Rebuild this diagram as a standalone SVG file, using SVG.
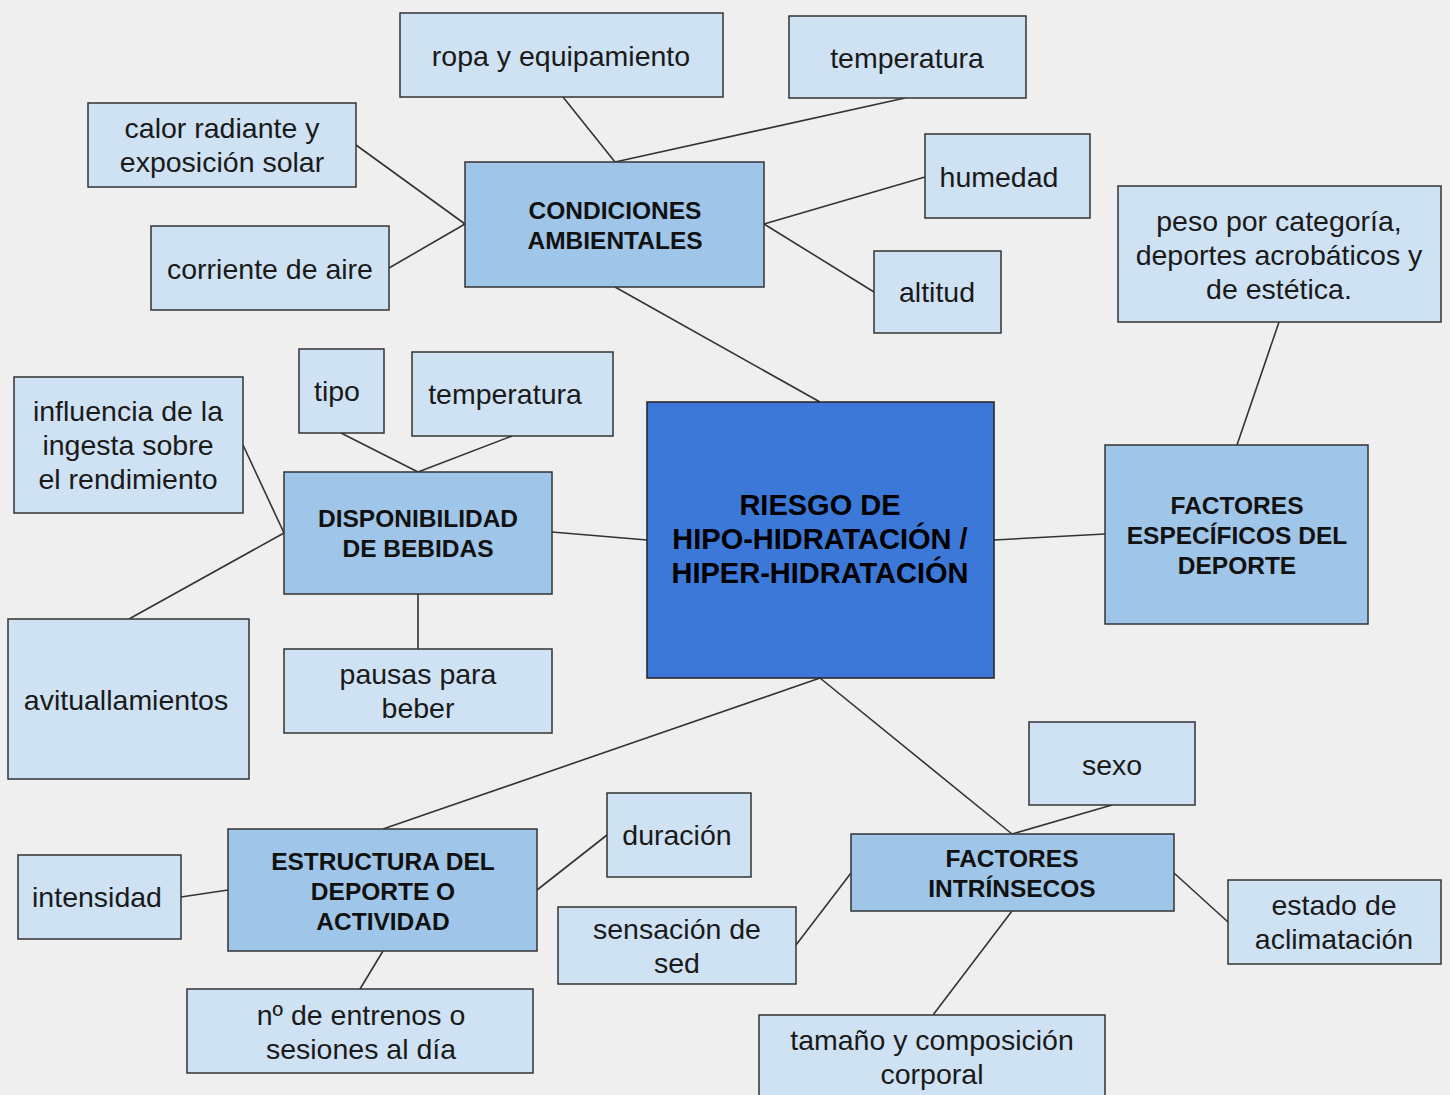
<svg xmlns="http://www.w3.org/2000/svg" width="1450" height="1095" viewBox="0 0 1450 1095">
  <style>
    .leaf { fill: #cfe2f3; stroke: #333333; stroke-width: 1.5; }
    .hub { fill: #9fc5e8; stroke: #333333; stroke-width: 1.5; }
    .core { fill: #3c78d8; stroke: #222222; stroke-width: 1.5; }
    .lt { font-family: "Liberation Sans", Arial, sans-serif; font-size: 28.5px; fill: #1a1a1a; text-anchor: middle; }
    .bt { font-family: "Liberation Sans", Arial, sans-serif; font-size: 24.5px; font-weight: bold; fill: #111111; text-anchor: middle; }
    .ct { font-family: "Liberation Sans", Arial, sans-serif; font-size: 29px; font-weight: bold; fill: #000000; text-anchor: middle; }
    .links line { stroke: #333333; stroke-width: 1.6; }
  </style>
  <rect width="1450" height="1095" fill="#efefef"/>

  <g class="links">
    <line x1="563" y1="97" x2="615" y2="162"/>
    <line x1="905" y1="98" x2="615" y2="162"/>
    <line x1="356" y1="145" x2="465" y2="224"/>
    <line x1="389" y1="268" x2="465" y2="224"/>
    <line x1="764" y1="224" x2="925" y2="177"/>
    <line x1="764" y1="224" x2="874" y2="292"/>
    <line x1="615" y1="287" x2="820" y2="402"/>
    <line x1="1279" y1="322" x2="1237" y2="445"/>
    <line x1="994" y1="540" x2="1105" y2="534"/>
    <line x1="341" y1="433" x2="418" y2="472"/>
    <line x1="512" y1="436" x2="418" y2="472"/>
    <line x1="243" y1="445" x2="284" y2="533"/>
    <line x1="284" y1="533" x2="129" y2="619"/>
    <line x1="552" y1="532" x2="647" y2="540"/>
    <line x1="418" y1="594" x2="418" y2="649"/>
    <line x1="820" y1="678" x2="383" y2="829"/>
    <line x1="820" y1="678" x2="1012" y2="834"/>
    <line x1="1112" y1="805" x2="1012" y2="834"/>
    <line x1="181" y1="897" x2="228" y2="890"/>
    <line x1="537" y1="890" x2="607" y2="835"/>
    <line x1="383" y1="951" x2="360" y2="989"/>
    <line x1="851" y1="873" x2="796" y2="945"/>
    <line x1="1174" y1="873" x2="1228" y2="922"/>
    <line x1="1012" y1="911" x2="933" y2="1015"/>
  </g>

  <!-- centre -->
  <g id="riesgo">
    <rect class="core" x="647" y="402" width="347" height="276"/>
    <text class="ct" x="820" y="515">RIESGO DE</text>
    <text class="ct" x="820" y="549">HIPO-HIDRATACIÓN /</text>
    <text class="ct" x="820" y="583">HIPER-HIDRATACIÓN</text>
  </g>

  <!-- environmental conditions -->
  <g id="condiciones">
    <rect class="hub" x="465" y="162" width="299" height="125"/>
    <text class="bt" x="615" y="219">CONDICIONES</text>
    <text class="bt" x="615" y="249">AMBIENTALES</text>
  </g>
  <g id="ropa">
    <rect class="leaf" x="400" y="13" width="323" height="84"/>
    <text class="lt" x="561" y="66">ropa y equipamiento</text>
  </g>
  <g id="temperatura-amb">
    <rect class="leaf" x="789" y="16" width="237" height="82"/>
    <text class="lt" x="907" y="68">temperatura</text>
  </g>
  <g id="calor">
    <rect class="leaf" x="88" y="103" width="268" height="84"/>
    <text class="lt" x="222" y="138">calor radiante y</text>
    <text class="lt" x="222" y="172">exposición solar</text>
  </g>
  <g id="corriente">
    <rect class="leaf" x="151" y="226" width="238" height="84"/>
    <text class="lt" x="270" y="279">corriente de aire</text>
  </g>
  <g id="humedad">
    <rect class="leaf" x="925" y="134" width="165" height="84"/>
    <text class="lt" x="999" y="187">humedad</text>
  </g>
  <g id="altitud">
    <rect class="leaf" x="874" y="251" width="127" height="82"/>
    <text class="lt" x="937" y="302">altitud</text>
  </g>

  <!-- sport-specific factors -->
  <g id="especificos">
    <rect class="hub" x="1105" y="445" width="263" height="179"/>
    <text class="bt" x="1237" y="514">FACTORES</text>
    <text class="bt" x="1237" y="544">ESPECÍFICOS DEL</text>
    <text class="bt" x="1237" y="574">DEPORTE</text>
  </g>
  <g id="peso">
    <rect class="leaf" x="1118" y="186" width="323" height="136"/>
    <text class="lt" x="1279" y="231">peso por categoría,</text>
    <text class="lt" x="1279" y="265">deportes acrobáticos y</text>
    <text class="lt" x="1279" y="299">de estética.</text>
  </g>

  <!-- drink availability -->
  <g id="disponibilidad">
    <rect class="hub" x="284" y="472" width="268" height="122"/>
    <text class="bt" x="418" y="527">DISPONIBILIDAD</text>
    <text class="bt" x="418" y="557">DE BEBIDAS</text>
  </g>
  <g id="tipo">
    <rect class="leaf" x="299" y="349" width="85" height="84"/>
    <text class="lt" x="337" y="401">tipo</text>
  </g>
  <g id="temperatura-beb">
    <rect class="leaf" x="412" y="352" width="201" height="84"/>
    <text class="lt" x="505" y="404">temperatura</text>
  </g>
  <g id="influencia">
    <rect class="leaf" x="14" y="377" width="229" height="136"/>
    <text class="lt" x="128" y="421">influencia de la</text>
    <text class="lt" x="128" y="455">ingesta sobre</text>
    <text class="lt" x="128" y="489">el rendimiento</text>
  </g>
  <g id="avituallamientos">
    <rect class="leaf" x="8" y="619" width="241" height="160"/>
    <text class="lt" x="126" y="710">avituallamientos</text>
  </g>
  <g id="pausas">
    <rect class="leaf" x="284" y="649" width="268" height="84"/>
    <text class="lt" x="418" y="684">pausas para</text>
    <text class="lt" x="418" y="718">beber</text>
  </g>

  <!-- sport / activity structure -->
  <g id="estructura">
    <rect class="hub" x="228" y="829" width="309" height="122"/>
    <text class="bt" x="383" y="870">ESTRUCTURA DEL</text>
    <text class="bt" x="383" y="900">DEPORTE O</text>
    <text class="bt" x="383" y="930">ACTIVIDAD</text>
  </g>
  <g id="intensidad">
    <rect class="leaf" x="18" y="855" width="163" height="84"/>
    <text class="lt" x="97" y="907">intensidad</text>
  </g>
  <g id="duracion">
    <rect class="leaf" x="607" y="793" width="144" height="84"/>
    <text class="lt" x="677" y="845">duración</text>
  </g>
  <g id="entrenos">
    <rect class="leaf" x="187" y="989" width="346" height="84"/>
    <text class="lt" x="361" y="1025">nº de entrenos o</text>
    <text class="lt" x="361" y="1059">sesiones al día</text>
  </g>

  <!-- intrinsic factors -->
  <g id="intrinsecos">
    <rect class="hub" x="851" y="834" width="323" height="77"/>
    <text class="bt" x="1012" y="867">FACTORES</text>
    <text class="bt" x="1012" y="897">INTRÍNSECOS</text>
  </g>
  <g id="sexo">
    <rect class="leaf" x="1029" y="722" width="166" height="83"/>
    <text class="lt" x="1112" y="775">sexo</text>
  </g>
  <g id="sed">
    <rect class="leaf" x="558" y="907" width="238" height="77"/>
    <text class="lt" x="677" y="939">sensación de</text>
    <text class="lt" x="677" y="973">sed</text>
  </g>
  <g id="aclimatacion">
    <rect class="leaf" x="1228" y="880" width="213" height="84"/>
    <text class="lt" x="1334" y="915">estado de</text>
    <text class="lt" x="1334" y="949">aclimatación</text>
  </g>
  <g id="tamano">
    <rect class="leaf" x="759" y="1015" width="346" height="90"/>
    <text class="lt" x="932" y="1050">tamaño y composición</text>
    <text class="lt" x="932" y="1084">corporal</text>
  </g>
</svg>
